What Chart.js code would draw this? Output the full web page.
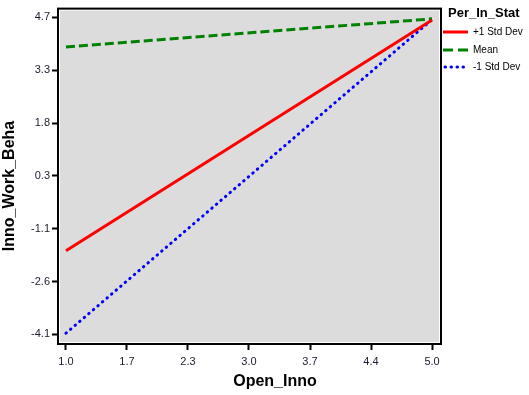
<!DOCTYPE html>
<html>
<head>
<meta charset="utf-8">
<script src="https://cdn.jsdelivr.net/npm/chart.js@4"></script>
<style>
  body { margin: 0; background: #fff; }
  #wrap { width: 529px; height: 395px; }
</style>
</head>
<body>
<div id="wrap"><canvas id="chart" width="529" height="395"></canvas></div>
<script>
// data
const xValues = [1.0, 5.0];
const plusOneSD = [-1.78, 4.63];
const meanLine = [3.88, 4.66];
const minusOneSD = [-4.07, 4.64];

const seriesNames = ["+1 Std Dev", "Mean", "-1 Std Dev"];
const legendTitle = "Per_In_Stat";
const xTitle = "Open_Inno";
const yTitle = "Inno_Work_Beha";

const xTickLabels = ["1.0", "1.7", "2.3", "3.0", "3.7", "4.4", "5.0"];
const yTickLabels = ["-4.1", "-2.6", "-1.1", "0.3", "1.8", "3.3", "4.7"];
const xTickFirst = 1.0, xTickLast = 5.0;
const yTickFirst = -4.1, yTickLast = 4.7;

const FONT = "Arial, 'Liberation Sans', sans-serif";
const colors = ["#ff0000", "#008000", "#0000ff"];
const dashes = [[], [9, 4], [0.5, 5.5]];

function toPoints(ys) {
  return xValues.map((x, i) => ({ x: x, y: ys[i] }));
}

function evenTicks(first, last, n) {
  const out = [];
  for (let i = 0; i < n; i++) out.push({ value: first + i * (last - first) / (n - 1) });
  return out;
}

// grey plot area with frame, titles and legend
const frame = {
  id: "frame",
  beforeDatasetsDraw(chart) {
    const { ctx, chartArea: a } = chart;
    ctx.save();
    ctx.fillStyle = "#dcdcdc";
    ctx.fillRect(a.left, a.top, a.right - a.left, a.bottom - a.top);
    ctx.restore();
  },
  afterDraw(chart) {
    const { ctx, chartArea: a } = chart;
    ctx.save();
    ctx.strokeStyle = "#ffffff";
    ctx.lineWidth = 1;
    ctx.strokeRect(a.left + 1.5, a.top + 1.5, a.right - a.left - 3, a.bottom - a.top - 3);
    ctx.strokeStyle = "#000";
    ctx.lineWidth = 2;
    ctx.strokeRect(a.left, a.top, a.right - a.left, a.bottom - a.top);

    // axis titles
    ctx.fillStyle = "#000";
    ctx.font = "bold 16px " + FONT;
    ctx.textAlign = "center";
    ctx.textBaseline = "middle";
    ctx.fillText(xTitle, 275, 382);
    ctx.translate(10, 186);
    ctx.rotate(-Math.PI / 2);
    ctx.fillText(yTitle, 0, 0);
    ctx.restore();

    // legend
    ctx.save();
    ctx.fillStyle = "#000";
    ctx.textAlign = "left";
    ctx.textBaseline = "middle";
    ctx.font = "bold 13px " + FONT;
    ctx.fillText(legendTitle, 448, 13);
    ctx.font = "10px " + FONT;
    const rows = [32, 50, 67];
    seriesNames.forEach((name, i) => {
      ctx.beginPath();
      ctx.strokeStyle = colors[i];
      ctx.lineWidth = 3;
      ctx.setLineDash(i === 1 ? [10, 5] : dashes[i]);
      ctx.lineCap = i === 2 ? "round" : "butt";
      ctx.moveTo(i === 2 ? 445 : 443, rows[i]);
      ctx.lineTo(468, rows[i]);
      ctx.stroke();
      ctx.fillText(name, 473, rows[i]);
    });
    ctx.restore();
  }
};

const datasets = [plusOneSD, meanLine, minusOneSD].map((ys, i) => ({
  label: seriesNames[i],
  data: toPoints(ys),
  borderColor: colors[i],
  borderWidth: 3,
  borderDash: dashes[i],
  borderCapStyle: i === 2 ? "round" : "butt",
  pointRadius: 0,
  fill: false,
  tension: 0
}));

const tickFont = { family: FONT, size: 11 };

new Chart(document.getElementById("chart"), {
  type: "line",
  data: { datasets },
  options: {
    responsive: false,
    animation: false,
    layout: { padding: { top: 2, right: 88, left: 0, bottom: 0 } },
    plugins: { legend: { display: false }, tooltip: { enabled: false } },
    scales: {
      x: {
        type: "linear",
        min: 0.913,
        max: 5.098,
        afterBuildTicks: (s) => { s.ticks = evenTicks(xTickFirst, xTickLast, xTickLabels.length); },
        afterFit: (s) => { s.height = 51; },
        ticks: {
          callback: (v, i) => xTickLabels[i],
          font: tickFont,
          color: "#1c1c30",
          padding: 5,
          maxRotation: 0,
          autoSkip: false
        },
        grid: { drawOnChartArea: false, tickLength: 6, tickColor: "#000", tickWidth: 2 },
        border: { display: false }
      },
      y: {
        type: "linear",
        min: -4.37,
        max: 4.945,
        afterBuildTicks: (s) => { s.ticks = evenTicks(yTickFirst, yTickLast, yTickLabels.length); },
        afterFit: (s) => { s.width = 58; },
        ticks: {
          callback: (v, i) => yTickLabels[i],
          font: tickFont,
          color: "#1c1c30",
          padding: 2,
          autoSkip: false
        },
        grid: { drawOnChartArea: false, tickLength: 6, tickColor: "#000", tickWidth: 2 },
        border: { display: false }
      }
    }
  },
  plugins: [frame]
});
</script>
</body>
</html>
